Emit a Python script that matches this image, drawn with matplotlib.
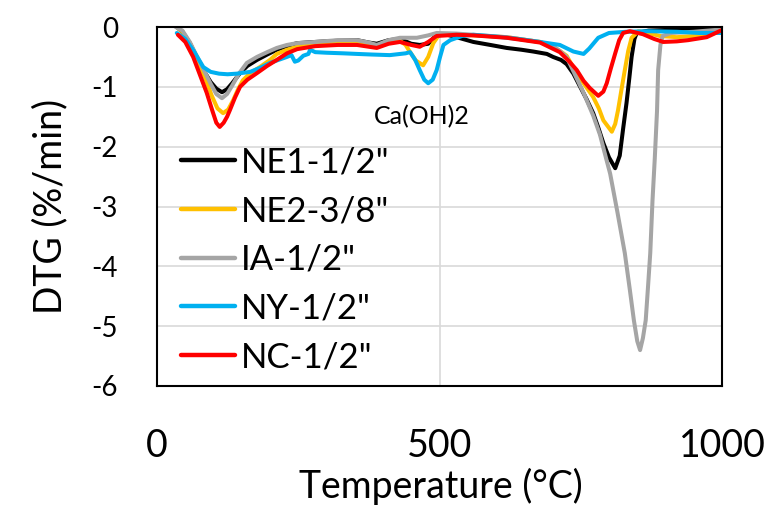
import matplotlib
matplotlib.use("Agg")
import matplotlib.pyplot as plt

plt.rcParams['font.family'] = ['Lato', 'DejaVu Sans']
plt.rcParams['axes.unicode_minus'] = False

# DTG curves (temperature in C, DTG in %/min)
t_ne1 = [35, 45, 58, 70, 82, 95, 105, 115, 124, 133, 147, 160, 177, 195, 212, 230, 248, 280, 320, 354,
         375, 389, 410, 430, 450, 465, 480, 495, 510, 530, 560, 590, 619, 645, 666, 690, 701, 715, 725,
         737, 749, 760, 772, 781, 790, 800, 811, 819, 825, 831, 836, 840, 845, 849, 870, 900, 930, 960, 1000]
d_ne1 = [0, -0.08, -0.27, -0.5, -0.72, -0.92, -1.03, -1.09, -1.04, -0.94, -0.77, -0.65, -0.55, -0.46,
         -0.38, -0.32, -0.27, -0.25, -0.23, -0.22, -0.26, -0.28, -0.22, -0.2, -0.28, -0.3, -0.28, -0.13,
         -0.12, -0.17, -0.25, -0.3, -0.35, -0.38, -0.41, -0.45, -0.5, -0.55, -0.62, -0.78, -1.0, -1.2,
         -1.44, -1.68, -1.94, -2.18, -2.36, -2.15, -1.7, -1.27, -0.85, -0.5, -0.2, -0.1, -0.06, -0.05,
         -0.04, -0.03, 0]

t_ne2 = [35, 45, 60, 72, 85, 97, 107, 117, 126, 135, 143, 152, 165, 182, 200, 212, 230, 248, 280, 320,
         354, 389, 410, 430, 440, 448, 458, 471, 480, 489, 500, 530, 560, 619, 678, 700, 713, 725, 743,
         758, 772, 782, 790, 805, 811, 816, 822, 828, 834, 840, 852, 870, 890, 920, 950, 980, 1000]
d_ne2 = [0, -0.08, -0.3, -0.55, -0.85, -1.15, -1.36, -1.44, -1.38, -1.22, -1.05, -0.89, -0.77, -0.67,
         -0.55, -0.45, -0.38, -0.33, -0.3, -0.27, -0.28, -0.32, -0.25, -0.23, -0.3, -0.42, -0.56, -0.64,
         -0.5, -0.27, -0.12, -0.12, -0.14, -0.17, -0.25, -0.32, -0.4, -0.48, -0.78, -0.98, -1.17, -1.36,
         -1.56, -1.75, -1.62, -1.39, -1.05, -0.72, -0.4, -0.18, -0.07, -0.1, -0.15, -0.17, -0.15, -0.12,
         -0.07]

t_ia = [33, 45, 58, 70, 82, 95, 105, 115, 124, 133, 145, 159, 177, 195, 212, 230, 248, 280, 320, 354,
        375, 389, 410, 430, 460, 480, 495, 530, 560, 619, 678, 700, 713, 725, 740, 755, 772, 784, 795,
        802, 815, 828, 837, 844, 850, 855, 860, 865, 869, 873, 877, 881, 885, 887, 891, 895, 910, 950, 1000]
d_ia = [0, -0.06, -0.25, -0.48, -0.7, -0.95, -1.12, -1.19, -1.12, -0.98, -0.78, -0.6, -0.5, -0.42,
        -0.35, -0.3, -0.27, -0.25, -0.22, -0.22, -0.26, -0.3, -0.22, -0.18, -0.18, -0.14, -0.1, -0.11,
        -0.13, -0.17, -0.25, -0.32, -0.4, -0.5, -0.8, -1.1, -1.48, -1.8, -2.2, -2.45, -3.1, -3.78, -4.4,
        -4.9, -5.25, -5.4, -5.2, -4.9, -4.35, -3.78, -2.9, -2.2, -1.4, -0.72, -0.3, -0.15, -0.1, -0.08,
        -0.04]

t_ny = [35, 50, 65, 82, 95, 110, 125, 141, 165, 183, 200, 215, 230, 238, 244, 250, 259, 268, 271, 280,
        300, 330, 354, 380, 412, 440, 448, 457, 465, 473, 480, 488, 495, 501, 507, 519, 540, 560, 600,
        640, 678, 713, 737, 755, 765, 781, 800, 830, 870, 920, 960, 1000]
d_ny = [-0.1, -0.2, -0.4, -0.67, -0.75, -0.78, -0.79, -0.78, -0.75, -0.68, -0.6, -0.55, -0.5, -0.47,
        -0.58, -0.56, -0.48, -0.45, -0.38, -0.42, -0.43, -0.44, -0.45, -0.46, -0.47, -0.44, -0.42, -0.55,
        -0.72, -0.88, -0.94, -0.88, -0.72, -0.5, -0.3, -0.22, -0.15, -0.13, -0.16, -0.2, -0.25, -0.3,
        -0.41, -0.45, -0.36, -0.18, -0.1, -0.08, -0.07, -0.08, -0.1, -0.1]

t_nc = [37, 50, 64, 76, 88, 98, 105, 111, 118, 124, 129, 138, 147, 160, 177, 195, 212, 230, 248, 280,
        320, 354, 389, 410, 430, 450, 465, 480, 495, 530, 560, 619, 678, 713, 730, 743, 755, 766, 781,
        790, 796, 803, 811, 818, 825, 837, 860, 880, 896, 920, 940, 973, 1000]
d_nc = [-0.13, -0.25, -0.5, -0.8, -1.1, -1.4, -1.6, -1.67, -1.6, -1.5, -1.39, -1.18, -1.0, -0.88,
        -0.77, -0.65, -0.55, -0.44, -0.37, -0.32, -0.3, -0.3, -0.35, -0.28, -0.25, -0.3, -0.33, -0.25,
        -0.15, -0.13, -0.14, -0.18, -0.26, -0.42, -0.58, -0.72, -0.9, -1.02, -1.15, -1.08, -0.94, -0.7,
        -0.44, -0.22, -0.1, -0.07, -0.12, -0.2, -0.25, -0.24, -0.22, -0.17, -0.05]

labels = ['NE1-1/2"', 'NE2-3/8"', 'IA-1/2"', 'NY-1/2"', 'NC-1/2"']
colors = ['#000000', '#FFC000', '#A5A5A5', '#00B0F0', '#FF0000']
series = [(t_ne1, d_ne1), (t_ne2, d_ne2), (t_ia, d_ia), (t_ny, d_ny), (t_nc, d_nc)]

fig = plt.figure(figsize=(7.75, 5.05), dpi=100)
ax = fig.add_axes([157 / 775, 1 - 386 / 505, 565 / 775, 359 / 505])

for (t, d), lab, c in zip(series, labels, colors):
    ax.plot(t, d, color=c, lw=2.9, label=lab, solid_capstyle='round', solid_joinstyle='round')

ax.set_xlim(0, 1000)
ax.set_ylim(-6, 0)
ax.set_xticks([0, 500, 1000])
ax.set_yticks(range(-6, 1))
ax.grid(True, color='#D9D9D9', lw=1.2)
ax.set_axisbelow(True)
for s in ax.spines.values():
    s.set_linewidth(1.5)
ax.tick_params(axis='x', length=0, pad=30, labelsize=27)
ax.tick_params(axis='y', length=0, pad=28, labelsize=20)

fig.text(0.5 * (293 + 588) / 775, 1 - 498 / 505, 'Temperature (°C)', fontsize=27,
         ha='center', va='baseline')
fig.text(50 / 775, 1 - 206 / 505, 'DTG (%/min)', fontsize=27, rotation=90,
         ha='center', va='center')

ax.text(384, -1.5, 'Ca(OH)2', fontsize=18, ha='left', va='center')

leg = ax.legend(loc='upper left', bbox_to_anchor=(0.0, 0.735), frameon=False, fontsize=25,
                handlelength=1.56, handletextpad=0.17, labelspacing=0.48, borderaxespad=0.3)
for h in leg.get_lines():
    h.set_linewidth(3.2)

fig.savefig('out.png', dpi=100)
